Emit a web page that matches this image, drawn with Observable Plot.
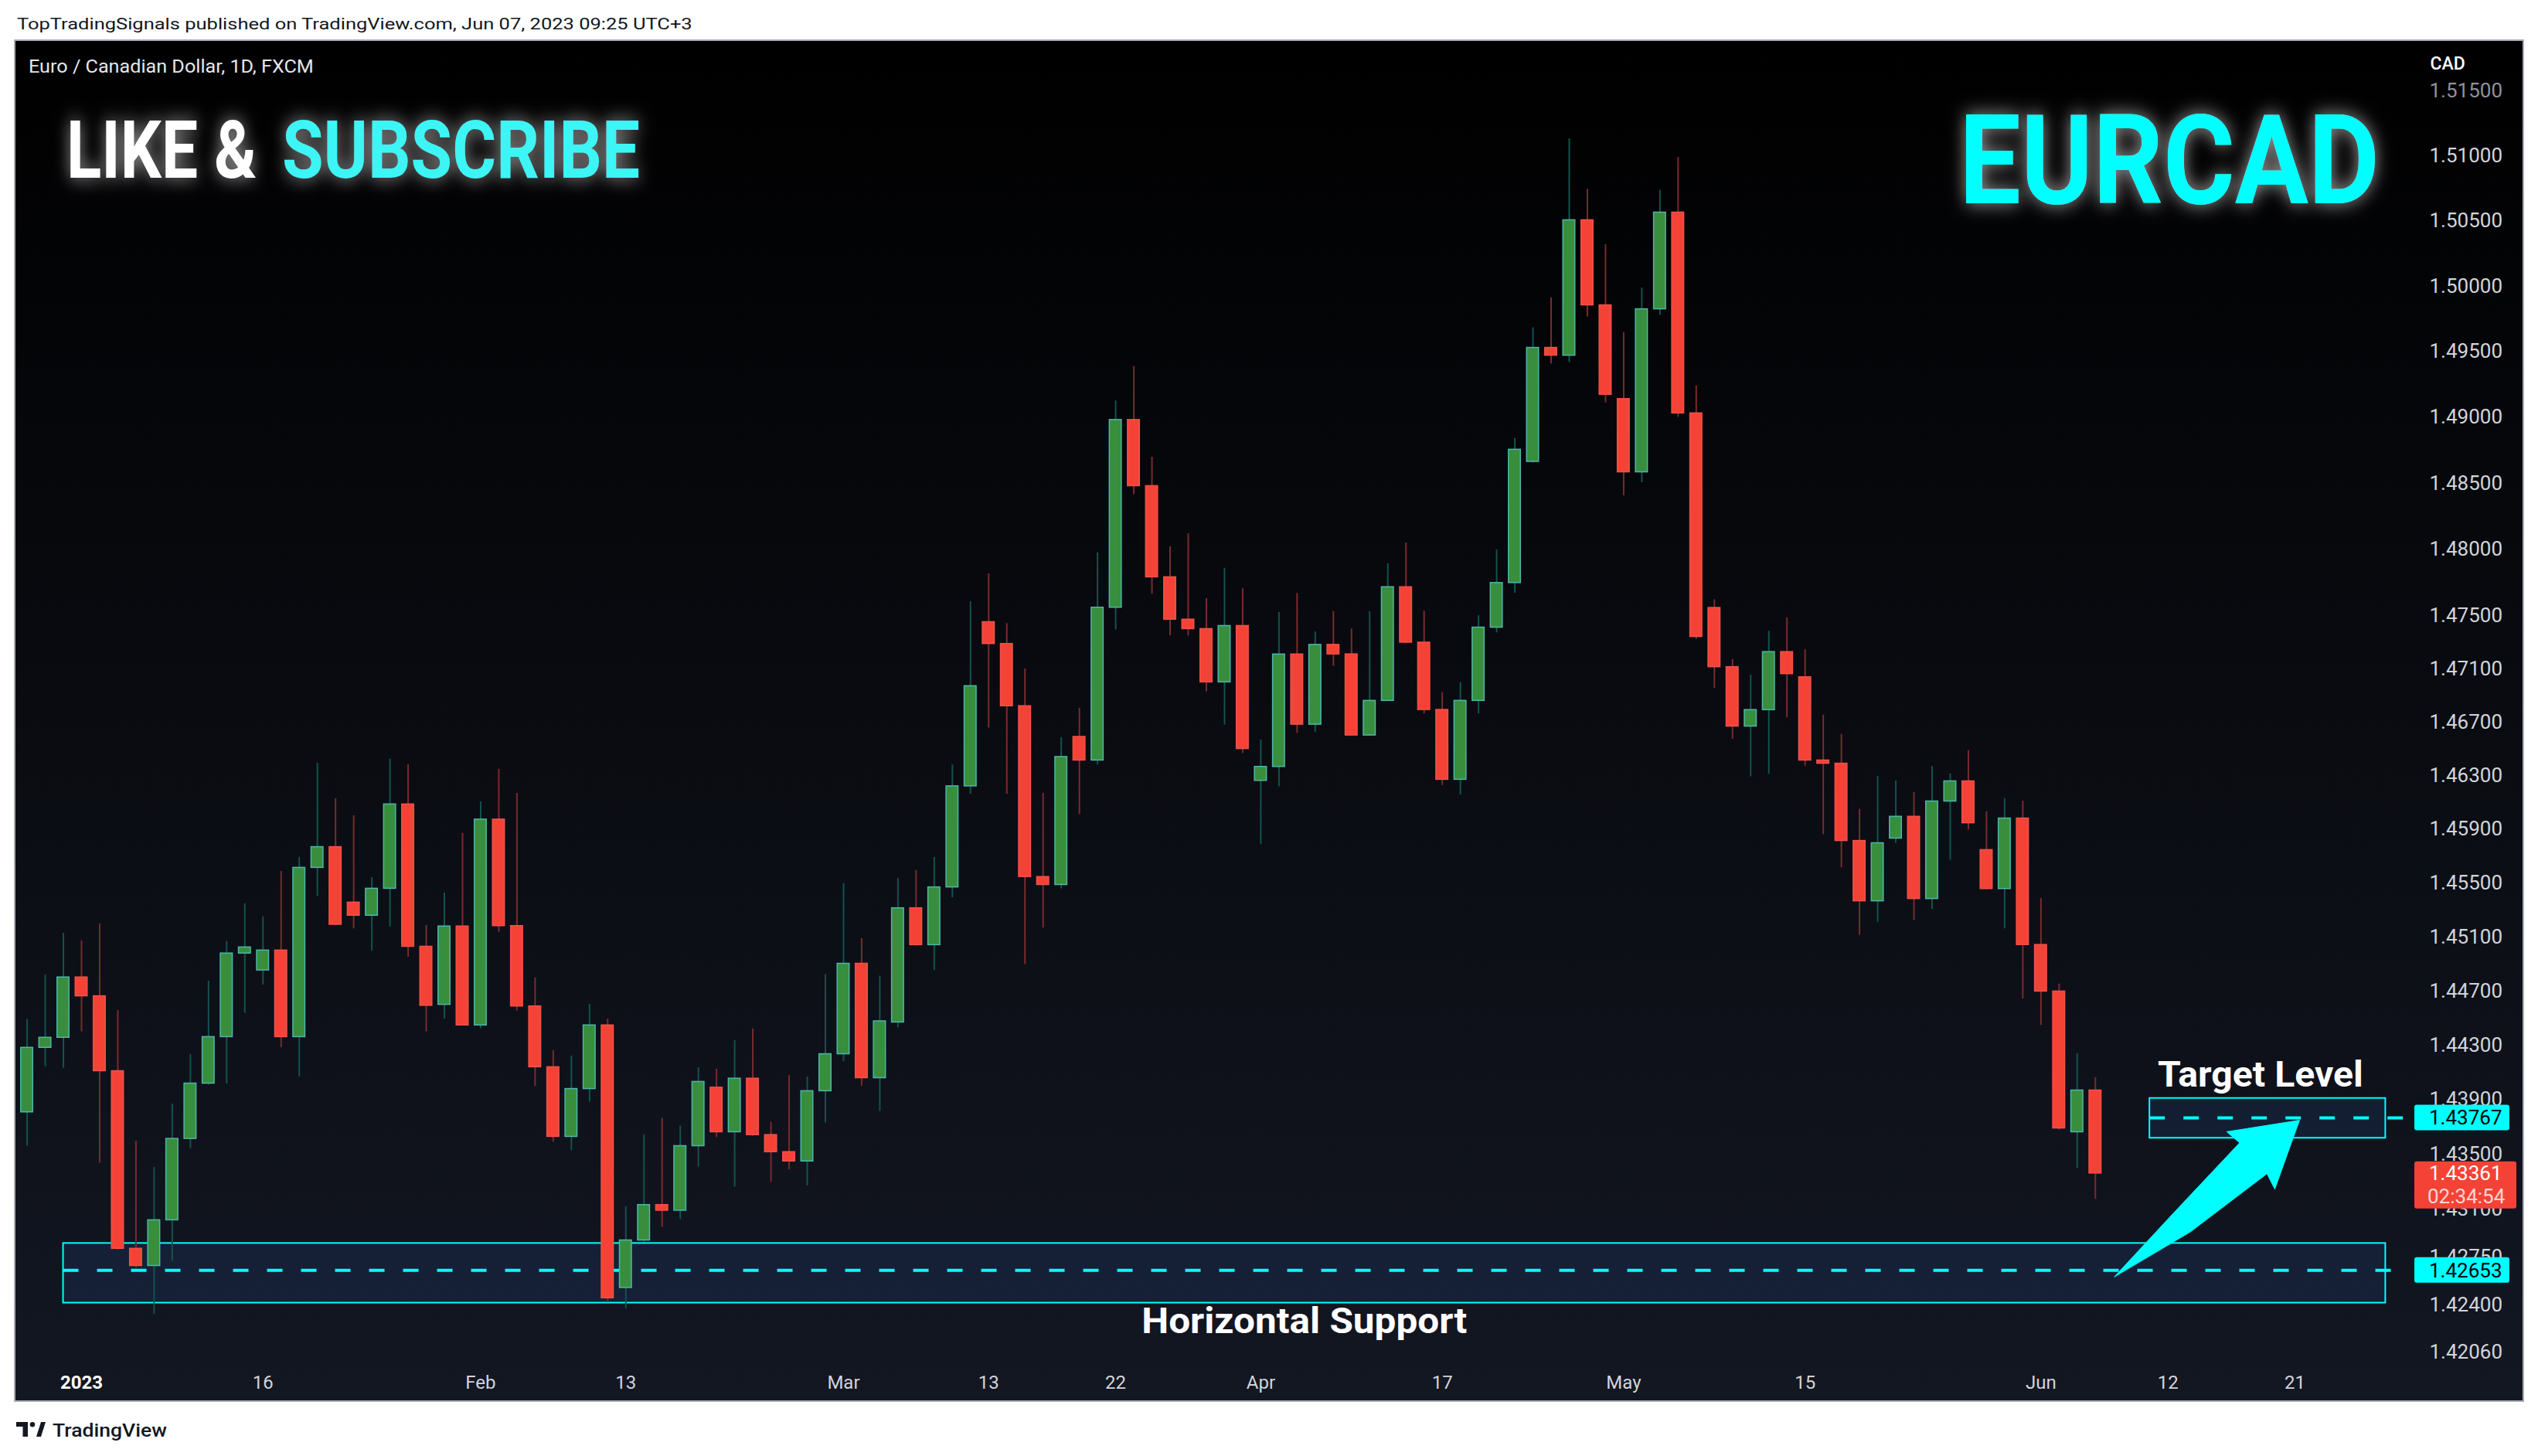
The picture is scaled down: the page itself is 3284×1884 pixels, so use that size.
<!DOCTYPE html>
<html>
<head>
<meta charset="utf-8">
<script src="https://cdn.jsdelivr.net/npm/d3@7"></script>
<script src="https://cdn.jsdelivr.net/npm/@observablehq/plot@0.6"></script>
<style>
  html, body { margin:0; padding:0; width:3284px; height:1884px; background:#ffffff; overflow:hidden; }
  #frame { position:absolute; left:20px; top:53px; width:3244px; height:1759px;
           background: linear-gradient(to bottom, #000000 0%, #131722 100%);
           box-shadow: 0 0 0 2px #a9acb5; overflow:hidden; }
  #chart { position:absolute; left:0; top:0; }
  #overlay { position:absolute; left:0; top:0; pointer-events:none; }
</style>
</head>
<body>
<div id="frame"><div id="chart"></div></div>
<svg id="overlay" width="3284" height="1884"></svg>
<script>
// ---------------- DATA ----------------
const dates = [
 "2022-12-28","2022-12-29","2022-12-30",
 "2023-01-02","2023-01-03","2023-01-04","2023-01-05","2023-01-06","2023-01-09","2023-01-10","2023-01-11","2023-01-12","2023-01-13",
 "2023-01-16","2023-01-17","2023-01-18","2023-01-19","2023-01-20","2023-01-23","2023-01-24","2023-01-25","2023-01-26","2023-01-27",
 "2023-01-30","2023-01-31","2023-02-01","2023-02-02","2023-02-03","2023-02-06","2023-02-07","2023-02-08","2023-02-09","2023-02-10",
 "2023-02-13","2023-02-14","2023-02-15","2023-02-16","2023-02-17","2023-02-20","2023-02-21","2023-02-22","2023-02-23","2023-02-24",
 "2023-02-27","2023-02-28","2023-03-01","2023-03-02","2023-03-03","2023-03-06","2023-03-07","2023-03-08","2023-03-09","2023-03-10",
 "2023-03-13","2023-03-14","2023-03-15","2023-03-16","2023-03-17","2023-03-20","2023-03-21","2023-03-22","2023-03-23","2023-03-24",
 "2023-03-27","2023-03-28","2023-03-29","2023-03-30","2023-03-31","2023-04-03","2023-04-04","2023-04-05","2023-04-06","2023-04-07",
 "2023-04-10","2023-04-11","2023-04-12","2023-04-13","2023-04-14","2023-04-17","2023-04-18","2023-04-19","2023-04-20","2023-04-21",
 "2023-04-24","2023-04-25","2023-04-26","2023-04-27","2023-04-28","2023-05-01","2023-05-02","2023-05-03","2023-05-04","2023-05-05",
 "2023-05-08","2023-05-09","2023-05-10","2023-05-11","2023-05-12","2023-05-15","2023-05-16","2023-05-17","2023-05-18","2023-05-19",
 "2023-05-22","2023-05-23","2023-05-24","2023-05-25","2023-05-26","2023-05-29","2023-05-30","2023-05-31","2023-06-01","2023-06-02",
 "2023-06-05","2023-06-06"
];
const opens = [
 1.43809,1.44283,1.44357,
 1.44802,1.44663,1.44111,1.42811,1.42686,1.43019,1.43614,1.44020,1.44362,1.44979,
 1.44854,1.45001,1.44362,1.45614,1.45768,1.45356,1.45259,1.45459,1.46086,1.45029,
 1.44600,1.45179,1.44448,1.45973,1.45182,1.44588,1.44140,1.43629,1.43980,1.44448,
 1.42526,1.42872,1.43130,1.43089,1.43561,1.43990,1.43663,1.44056,1.43642,1.43517,
 1.43449,1.43964,1.44236,1.44903,1.44060,1.44470,1.45314,1.45041,1.45469,1.46221,
 1.47451,1.47287,1.46820,1.45546,1.45487,1.46590,1.46414,1.47560,1.48980,1.48478,
 1.47789,1.47470,1.47399,1.46999,1.47422,1.46262,1.46366,1.47208,1.46682,1.47280,
 1.47209,1.46601,1.46860,1.47714,1.47297,1.46792,1.46270,1.46860,1.47410,1.47746,
 1.48662,1.49529,1.49470,1.50506,1.49854,1.49139,1.48583,1.49824,1.50565,1.49030,
 1.47558,1.47113,1.46668,1.46791,1.47226,1.47037,1.46414,1.46390,1.45814,1.45366,
 1.45832,1.45994,1.45383,1.46108,1.46258,1.45746,1.45457,1.45981,1.45042,1.44698,
 1.43663,1.43969
];
const highs = [
 1.44492,1.44821,1.45129,
 1.45073,1.45198,1.44558,1.43597,1.43404,1.43869,1.44233,1.44774,1.45068,1.45348,
 1.45251,1.45587,1.45692,1.46394,1.46128,1.46002,1.45542,1.46424,1.46382,1.45187,
 1.45427,1.45870,1.46105,1.46348,1.46168,1.44799,1.44263,1.44223,1.44604,1.44495,
 1.43117,1.43644,1.43765,1.43707,1.44137,1.44126,1.44336,1.44422,1.43736,1.44079,
 1.44069,1.44822,1.45497,1.45089,1.44812,1.45535,1.45594,1.45691,1.46381,1.47605,
 1.47815,1.47440,1.47100,1.46169,1.46585,1.46805,1.47974,1.49124,1.49387,1.48697,
 1.48019,1.48117,1.47628,1.47857,1.47703,1.46567,1.47524,1.47668,1.47378,1.47531,
 1.47400,1.47531,1.47891,1.48048,1.47534,1.46922,1.46997,1.47501,1.47995,1.48840,
 1.49682,1.49911,1.51133,1.50743,1.50319,1.49646,1.49987,1.50735,1.50989,1.49239,
 1.47620,1.47170,1.47054,1.47383,1.47483,1.47244,1.46753,1.46609,1.46049,1.46296,
 1.46261,1.46176,1.46370,1.46314,1.46488,1.46032,1.46128,1.46111,1.45387,1.44753,
 1.44239,1.44064
];
const lows = [
 1.43561,1.44144,1.44133,
 1.44401,1.43437,1.42802,1.42673,1.42335,1.42719,1.43542,1.44009,1.44017,1.44538,
 1.44746,1.44285,1.44070,1.45401,1.45187,1.45162,1.44998,1.45176,1.44952,1.44401,
 1.44496,1.44445,1.44424,1.45137,1.44555,1.43998,1.43590,1.43527,1.43884,1.42420,
 1.42374,1.42859,1.42967,1.43024,1.43408,1.43624,1.43262,1.43634,1.43296,1.43387,
 1.43270,1.43731,1.44181,1.44001,1.43815,1.44430,1.45034,1.44853,1.45391,1.46162,
 1.46657,1.46162,1.44897,1.45167,1.45458,1.46010,1.46381,1.47392,1.48414,1.47661,
 1.47347,1.47347,1.46928,1.46679,1.46466,1.45787,1.46218,1.46617,1.46624,1.47120,
 1.46598,1.46595,1.46855,1.47290,1.46763,1.46227,1.46157,1.46763,1.47371,1.47668,
 1.48652,1.49407,1.49417,1.49765,1.49110,1.48405,1.48504,1.49778,1.49001,1.47322,
 1.46954,1.46573,1.46293,1.46311,1.46732,1.46373,1.45861,1.45615,1.45115,1.45208,
 1.45797,1.45223,1.45305,1.45670,1.45896,1.45451,1.45162,1.44643,1.44448,1.43678,
 1.43397,1.43172
];
const closes = [
 1.44283,1.44357,1.44802,
 1.44663,1.44111,1.42811,1.42686,1.43019,1.43614,1.44020,1.44362,1.44979,1.45024,
 1.45001,1.44362,1.45614,1.45768,1.45192,1.45259,1.45459,1.46086,1.45029,1.44593,
 1.45179,1.44448,1.45973,1.45182,1.44588,1.44140,1.43629,1.43980,1.44448,1.42451,
 1.42872,1.43130,1.43089,1.43561,1.44032,1.43663,1.44056,1.43642,1.43517,1.43449,
 1.43964,1.44236,1.44903,1.44060,1.44478,1.45314,1.45041,1.45469,1.46221,1.46970,
 1.47287,1.46820,1.45546,1.45487,1.46440,1.46414,1.47560,1.48980,1.48478,1.47789,
 1.47470,1.47399,1.46999,1.47422,1.46500,1.46366,1.47208,1.46682,1.47280,1.47209,
 1.46601,1.46860,1.47714,1.47297,1.46792,1.46270,1.46860,1.47410,1.47746,1.48754,
 1.49529,1.49470,1.50506,1.49854,1.49172,1.48583,1.49824,1.50565,1.49030,1.47340,
 1.47113,1.46668,1.46791,1.47226,1.47061,1.46414,1.46390,1.45814,1.45366,1.45797,
 1.45994,1.45383,1.46108,1.46258,1.45946,1.45457,1.45981,1.45042,1.44698,1.43691,
 1.43969,1.43361
];
const lastPrice = 1.43361;
const countdown = "02:34:54";

const priceTicks = [1.515,1.510,1.505,1.500,1.495,1.490,1.485,1.480,1.475,1.471,1.467,1.463,1.459,1.455,1.451,1.447,1.443,1.439,1.435,1.431,1.4275,1.424,1.4206];
const timeTickDates  = ["2023-01-02","2023-01-16","2023-02-01","2023-02-13","2023-03-01","2023-03-13","2023-03-22","2023-04-03","2023-04-17","2023-05-01","2023-05-15","2023-06-01","2023-06-12","2023-06-21"];
const timeTickLabels = ["2023","16","Feb","13","Mar","13","22","Apr","17","May","15","Jun","12","21"];

// drawn zones
const zoneNames  = ["Horizontal Support","Target Level"];
const zoneStarts = ["2022-12-30","2023-06-09"];
const zoneEnds   = ["2023-06-28","2023-06-28"];
const zoneLows   = [1.42416,1.43619];
const zoneHighs  = [1.42850,1.43911];
const zoneLevels = [1.42653,1.43767];
// label anchors (trading-day position, price)
const labelPos    = [67.4, 120.1];
const labelPrices = [1.42416, 1.43911];
// arrow outline (trading-day position, price)
const arrowPos    = [112.05,115.30,118.95,118.24,122.25,120.89,120.46,116.26];
const arrowPrices = [1.42607,1.43070,1.43585,1.43666,1.43750,1.43246,1.43359,1.42936];

// ---------------- HELPERS ----------------
function tradingIndex(s) {           // weekday count from 2023-01-02
  const [y,m,d] = s.split("-").map(Number);
  const days = Math.round((Date.UTC(y,m-1,d) - Date.UTC(2023,0,2)) / 86400000);
  const w = Math.floor(days / 7), r = days - w * 7;
  return w * 5 + Math.min(r, 5);
}
const UP = "#388e3c", UPB = "#4db6ac", UPW = "#12534f";
const DN = "#f44336", DNB = "#f0524a", DNW = "#7a2b2d";
const CY = "#00ffff", AX = "#d1d4dc";
const W = 3244, H = 1759, MR = 153, MB = 52, HW = 0.33;
const X_DOMAIN = [0, 122], X_RANGE = [85, 2949];
// position of the price-scale edge in trading-day units (for lines extended to the right)
const xEdge = X_DOMAIN[0] + (W - MR - X_RANGE[0]) / (X_RANGE[1] - X_RANGE[0]) * (X_DOMAIN[1] - X_DOMAIN[0]);

const candles = dates.map((d, i) => ({x: tradingIndex(d), open: opens[i], high: highs[i], low: lows[i], close: closes[i]}));
const up = candles.filter(d => d.close >= d.open);
const down = candles.filter(d => d.close < d.open);
const zones = zoneNames.map((n, i) => ({name: n, x1: tradingIndex(zoneStarts[i]), x2: tradingIndex(zoneEnds[i]), low: zoneLows[i], high: zoneHighs[i], level: zoneLevels[i], edge: xEdge}));
const labels = zoneNames.map((n, i) => ({text: n, x: labelPos[i], y: labelPrices[i]}));
const arrow = arrowPos.map((x, i) => ({x, y: arrowPrices[i]}));
const ticks = timeTickDates.map((d, i) => ({i: tradingIndex(d), label: timeTickLabels[i]}));
const tickLabel = new Map(ticks.map(t => [t.i, t.label]));

const plot = Plot.plot({
  width: W, height: H, marginTop: 0, marginLeft: 0, marginRight: MR, marginBottom: MB,
  style: {background: "transparent", fontFamily: "Roboto, 'Noto Sans', sans-serif", overflow: "visible"},
  x: {type: "linear", domain: X_DOMAIN, range: X_RANGE, axis: null, label: null},
  y: {type: "log", domain: [1.4206, 1.515], range: [1696, 64.5], axis: null, label: null},
  marks: [
    Plot.rect(zones, {x1: "x1", x2: "x2", y1: "low", y2: "high", fill: "rgb(40,80,150)", fillOpacity: 0.2, stroke: CY, strokeWidth: 2}),
    Plot.ruleY(zones, {y: "level", x1: "x1", x2: "edge", stroke: CY, strokeWidth: 4, strokeDasharray: "20,24"}),
    Plot.ruleX(up,   {x: "x", y1: "low", y2: "high", stroke: UPW, strokeWidth: 2}),
    Plot.ruleX(down, {x: "x", y1: "low", y2: "high", stroke: DNW, strokeWidth: 2}),
    Plot.rect(up,   {x1: d => d.x - HW, x2: d => d.x + HW, y1: "open", y2: "close", fill: UP, stroke: UPB, strokeWidth: 1.5}),
    Plot.rect(down, {x1: d => d.x - HW, x2: d => d.x + HW, y1: "open", y2: "close", fill: DN, stroke: DNB, strokeWidth: 1.5}),
    Plot.axisY(priceTicks.slice(1), {anchor: "right", tickSize: 0, tickPadding: 32, tickFormat: d => d.toFixed(5), fontSize: 26, fill: AX, label: null}),
    Plot.axisY([priceTicks[0]], {anchor: "right", tickSize: 0, tickPadding: 32, tickFormat: d => d.toFixed(5), fontSize: 26, fill: "#8f9299", label: null}),
    Plot.axisX(ticks.filter(t => t.label !== "2023").map(t => t.i), {anchor: "bottom", tickSize: 0, tickPadding: 19, tickFormat: i => tickLabel.get(i), fontSize: 24, fill: AX, label: null}),
    Plot.axisX(ticks.filter(t => t.label === "2023").map(t => t.i), {anchor: "bottom", tickSize: 0, tickPadding: 19, tickFormat: i => tickLabel.get(i), fontSize: 24, fontWeight: 700, fill: "#ffffff", label: null}),
    Plot.text(["CAD"], {frameAnchor: "top-right", dx: 33, dy: 29, textAnchor: "start", lineAnchor: "middle", fontSize: 23, fontWeight: 500, fill: "#ffffff"}),
    Plot.text(labels.filter(d => d.text === "Target Level"), {x: "x", y: "y", text: "text", dy: -15, lineAnchor: "bottom", fontSize: 46, fontWeight: 700, fill: "#ffffff"}),
    Plot.text(labels.filter(d => d.text !== "Target Level"), {x: "x", y: "y", text: "text", dy: 6, lineAnchor: "top", fontSize: 46, fontWeight: 700, fill: "#ffffff"}),
    Plot.line(arrow, {x: "x", y: "y", curve: "linear-closed", fill: CY, stroke: CY, strokeWidth: 1, strokeLinejoin: "round"})
  ]
});
document.getElementById("chart").appendChild(plot);

const svg = d3.select(plot);
// match the drawn label widths of the original
const labelWidths = new Map([["Target Level", 266], ["Horizontal Support", 421]]);
svg.selectAll("text").each(function () {
  const w = labelWidths.get(this.textContent);
  if (w) d3.select(this).attr("textLength", w).attr("lengthAdjust", "spacingAndGlyphs");
});

// price tags on the price scale
const ys = plot.scale("y");
const Y = d3.scaleLog().domain(ys.domain).range(ys.range);
const tags = svg.append("g").attr("font-family", "Roboto, 'Noto Sans', sans-serif").attr("font-size", 26).attr("text-anchor", "start");
const tagX = W - MR + 13, textX = W - MR + 32;
zoneLevels.forEach(p => {
  tags.append("rect").attr("x", tagX).attr("y", Y(p) - 16.5).attr("width", 123).attr("height", 33).attr("rx", 3).attr("fill", CY);
  tags.append("text").attr("x", textX).attr("y", Y(p)).attr("dy", "0.36em").attr("fill", "#000").text(p.toFixed(5));
});
tags.append("rect").attr("x", tagX).attr("y", Y(lastPrice) - 15).attr("width", 132).attr("height", 61).attr("rx", 3).attr("fill", DN);
tags.append("text").attr("x", textX).attr("y", Y(lastPrice)).attr("dy", "0.36em").attr("fill", "#fff").text(lastPrice.toFixed(5));
tags.append("text").attr("x", textX - 2).attr("y", Y(lastPrice) + 30).attr("dy", "0.36em").attr("fill", "rgba(255,255,255,0.8)").text(countdown);

// page texts (header, watermarks, footer)
const ov = d3.select("#overlay");
ov.html(`
<defs>
  <filter id="glow" x="-10%" y="-60%" width="120%" height="220%">
    <feGaussianBlur in="SourceAlpha" stdDeviation="12" result="b"/>
    <feFlood flood-color="#e0e0e0" flood-opacity="0.7"/>
    <feComposite in2="b" operator="in" result="g"/>
    <feMerge><feMergeNode in="g"/><feMergeNode in="SourceGraphic"/></feMerge>
  </filter>
</defs>`);
// text fitted horizontally to the width it has in the original (scaled, so its box stays true)
function t(x, y, size, weight, fill, len, str, glow) {
  const g = ov.append("g");
  const e = g.append("text").attr("x", 0).attr("y", 0).attr("font-size", size).attr("font-weight", weight)
    .attr("fill", fill).attr("font-family", "Roboto, 'Noto Sans', sans-serif").text(str);
  const natural = e.node().getComputedTextLength() || len;
  g.attr("transform", `translate(${x},${y}) scale(${len / natural},1)`);
  if (glow) g.attr("filter", "url(#glow)");
}
t(22, 38, 21, 400, "#131722", 874, "TopTradingSignals published on TradingView.com, Jun 07, 2023 09:25 UTC+3");
t(37, 94, 23, 400, "#e4e6ec", 369, "Euro / Canadian Dollar, 1D, FXCM");
t(86, 230, 103, 700, "#ffffff", 246, "LIKE &", true);
t(365, 230, 103, 700, "#3cf5f5", 463, "SUBSCRIBE", true);
t(2535, 263, 162, 700, "#00ffff", 544, "EURCAD", true);
t(68, 1859, 23, 500, "#131722", 148, "TradingView");
// TradingView logo
const lg = ov.append("g").attr("transform", "translate(21,1840)").attr("fill", "#131722");
lg.append("path").attr("d", "M0 0 H15 V19 H8.5 V6 H0 Z");
lg.append("circle").attr("cx", 21).attr("cy", 3.2).attr("r", 3.2);
lg.append("path").attr("d", "M26 19 L32 0 H38 L32 19 Z");
</script>
</body>
</html>
